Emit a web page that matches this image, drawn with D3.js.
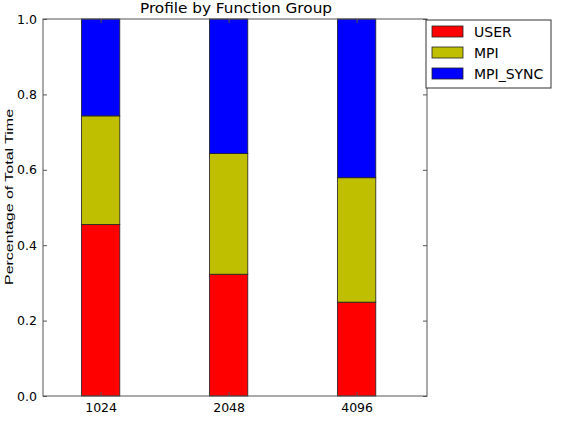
<!DOCTYPE html>
<html>
<head>
<meta charset="utf-8">
<script src="https://cdn.jsdelivr.net/npm/d3@7"></script>
<style>
  body { margin: 0; background: #fff; }
  text { font-family: "DejaVu Sans", sans-serif; fill: #000; }
</style>
</head>
<body>
<svg id="vis-svg" width="561" height="430"></svg>
<script>
// data
const categories = ["1024", "2048", "4096"];
const seriesNames = ["USER", "MPI", "MPI_SYNC"];
const userVals = [0.455, 0.323, 0.249];
const mpiVals = [0.288, 0.320, 0.330];
const syncVals = [0.257, 0.357, 0.421];
const yTicks = [0.0, 0.2, 0.4, 0.6, 0.8, 1.0];
const colors = ["#ff0000", "#bfbf00", "#0000ff"];

const margin = {top: 19, left: 43, right: 134, bottom: 34},
      width = 561 - margin.left - margin.right,
      height = 430 - margin.top - margin.bottom;

const svg = d3.select("#vis-svg")
  .append("g")
    .attr("transform", "translate(" + margin.left + "," + margin.top + ")");

// matplotlib-ish scales: bar index on a linear axis
const x = d3.scaleLinear().domain([-0.45, 2.55]).range([0, width]),
      y = d3.scaleLinear().domain([0, 1]).range([height, 0]);
const barW = 0.3;

// stack the series
const rows = categories.map((c, i) => ({
  i: i, USER: userVals[i], MPI: mpiVals[i], MPI_SYNC: syncVals[i]
}));
const stacked = d3.stack().keys(seriesNames)(rows);

svg.selectAll(".layer")
    .data(stacked)
  .enter().append("g")
    .attr("fill", (d, k) => colors[k])
  .selectAll("rect")
    .data(d => d)
  .enter().append("rect")
    .attr("x", d => x(d.data.i - barW / 2))
    .attr("width", d => x(barW) - x(0))
    .attr("y", d => y(d[1]))
    .attr("height", d => y(d[0]) - y(d[1]))
    .attr("stroke", "#222")
    .attr("stroke-width", 0.8);

// frame
svg.append("rect")
    .attr("width", width).attr("height", height)
    .attr("fill", "none").attr("stroke", "#555").attr("stroke-width", 1);

// y axis: ticks inside on both sides
const yAxis = svg.append("g")
    .call(d3.axisLeft(y).tickValues(yTicks).tickFormat(d3.format(".1f")).tickSize(-4).tickPadding(6));
yAxis.select(".domain").remove();
yAxis.selectAll("line").attr("stroke", "#555");
yAxis.selectAll("text").style("font-size", "12.5px").attr("fill", "#000");

const yAxisR = svg.append("g")
    .attr("transform", "translate(" + width + ",0)")
    .call(d3.axisRight(y).tickValues(yTicks).tickSize(-4).tickFormat(""));
yAxisR.select(".domain").remove();
yAxisR.selectAll("line").attr("stroke", "#555");

// x axis
const xAxis = svg.append("g")
    .attr("transform", "translate(0," + height + ")")
    .call(d3.axisBottom(x).tickValues([0, 1, 2]).tickFormat(i => categories[i]).tickSize(-4).tickPadding(7));
xAxis.select(".domain").remove();
xAxis.selectAll("line").attr("stroke", "#555");
xAxis.selectAll("text").style("font-size", "12.5px").attr("fill", "#000");

const xAxisT = svg.append("g")
    .call(d3.axisTop(x).tickValues([0, 1, 2]).tickSize(-4).tickFormat(""));
xAxisT.select(".domain").remove();
xAxisT.selectAll("line").attr("stroke", "#555");

// title
svg.append("text")
    .attr("x", width / 2 + 1).attr("y", -6)
    .attr("text-anchor", "middle")
    .attr("textLength", 192)
    .attr("lengthAdjust", "spacingAndGlyphs")
    .style("font-size", "14px")
    .text("Profile by Function Group");

// y label
svg.append("text")
    .attr("transform", "rotate(-90)")
    .attr("x", -178).attr("y", -30)
    .attr("text-anchor", "middle")
    .attr("textLength", 176)
    .attr("lengthAdjust", "spacingAndGlyphs")
    .style("font-family", "'Liberation Sans', Arial, sans-serif")
    .style("font-size", "11px")
    .text("Percentage of Total Time");

// legend
const legend = svg.append("g")
    .attr("transform", "translate(" + (width - 1) + ",1)");
legend.append("rect")
    .attr("width", 125).attr("height", 68)
    .attr("fill", "#fff").attr("stroke", "#333").attr("stroke-width", 1);
const items = legend.selectAll(".item")
    .data(seriesNames)
  .enter().append("g")
    .attr("transform", (d, k) => "translate(6," + (12 + k * 21) + ")");
items.append("rect")
    .attr("y", -6).attr("width", 31).attr("height", 11)
    .attr("fill", (d, k) => colors[k])
    .attr("stroke", "#222").attr("stroke-width", 0.8);
items.append("text")
    .attr("x", 42).attr("y", 5)
    .style("font-size", "14px")
    .text(d => d);
</script>
</body>
</html>
